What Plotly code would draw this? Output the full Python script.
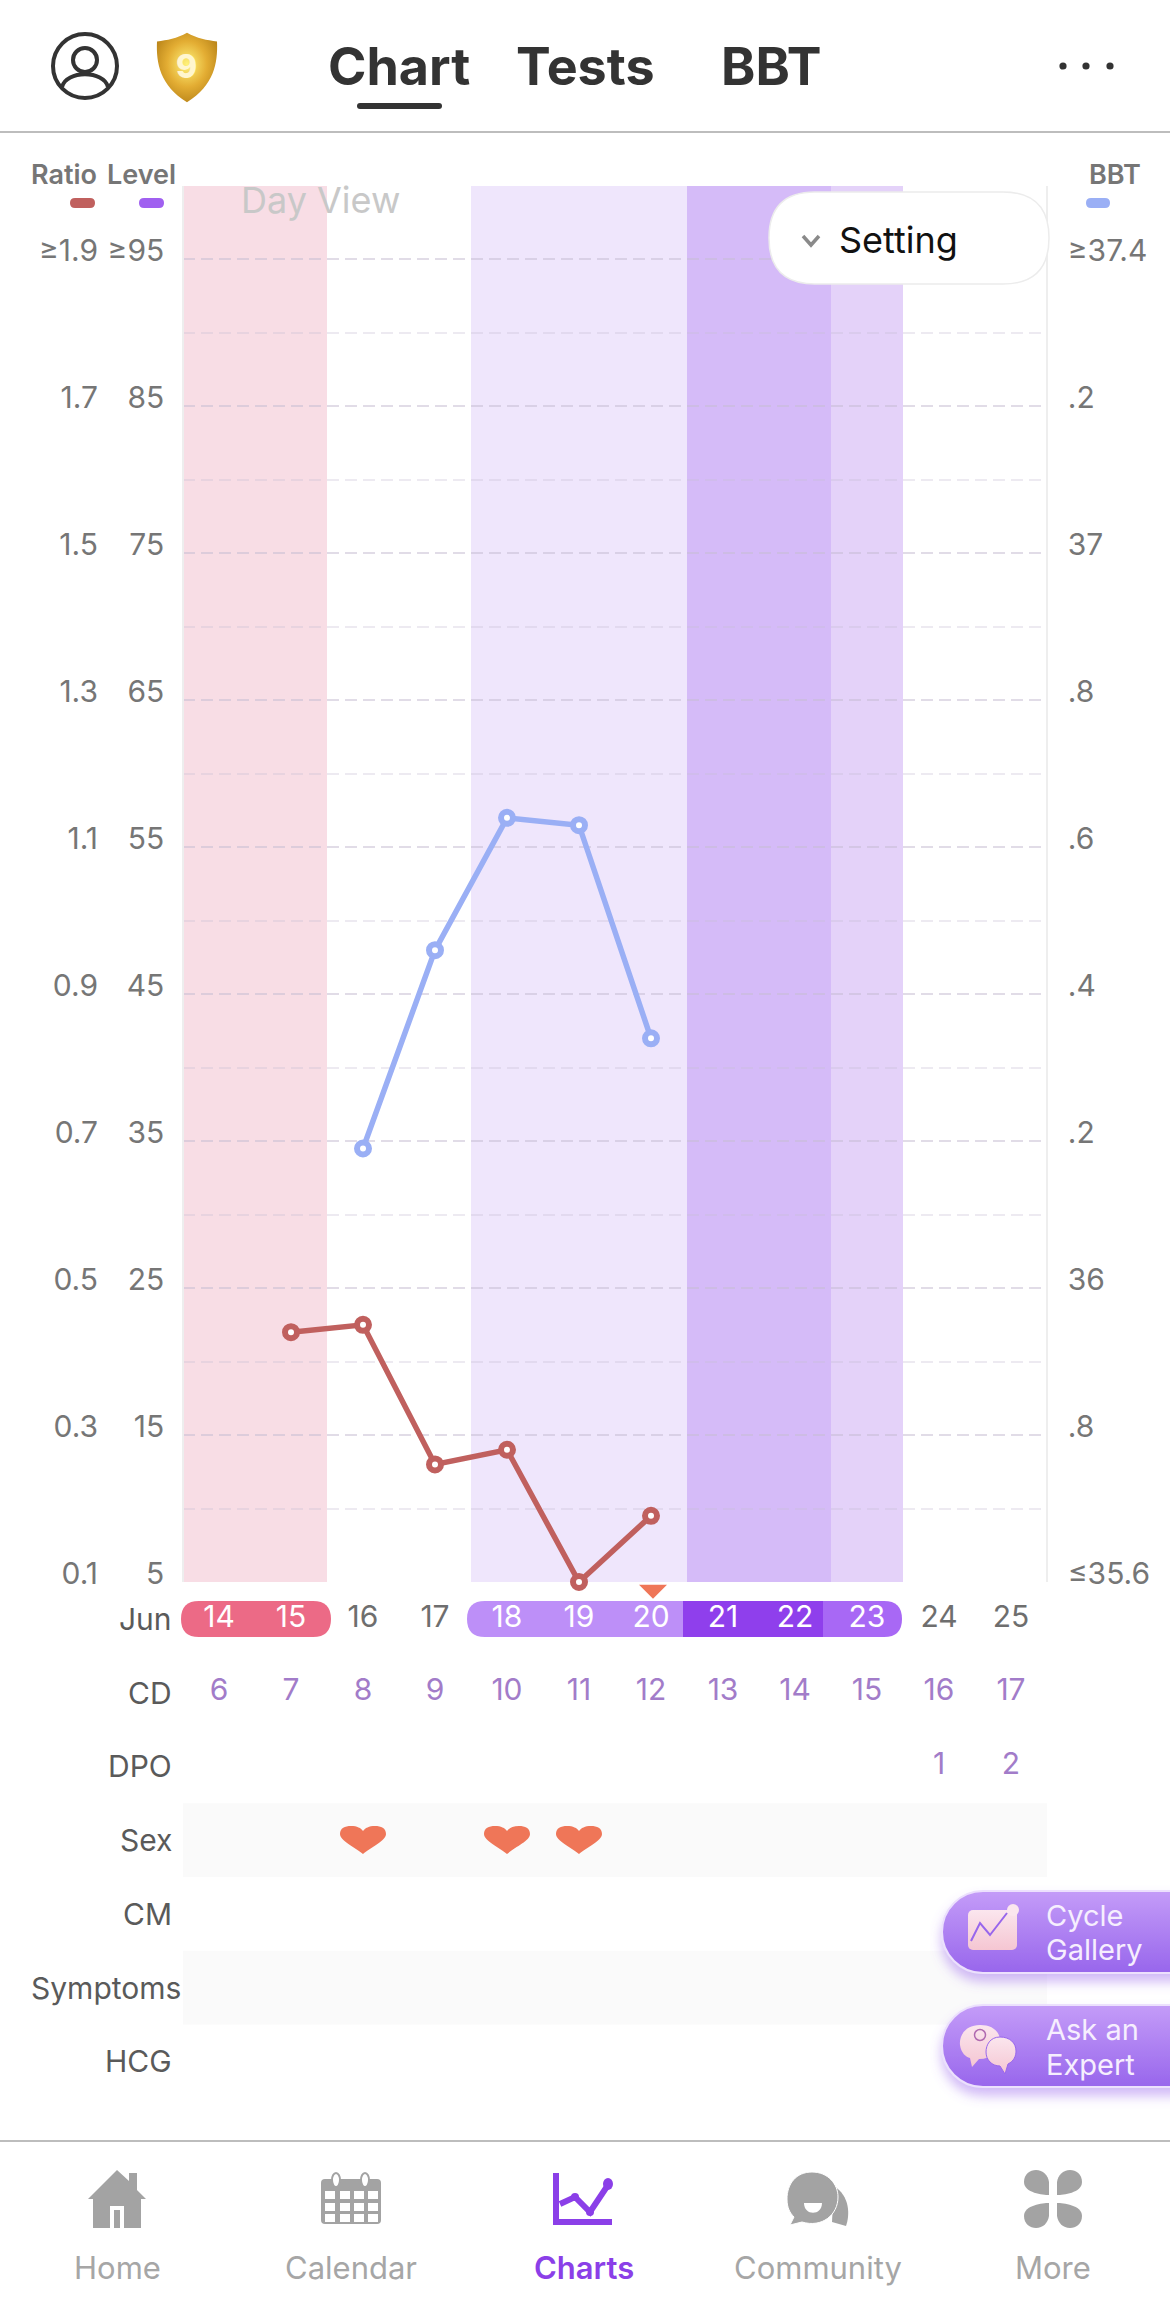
import base64
import plotly.graph_objects as go

# ---------- data ----------
ratio_days = [15, 16, 17, 18, 19, 20]
ratio_values = [0.44, 0.45, 0.26, 0.28, 0.10, 0.19]
bbt_days = [16, 17, 18, 19, 20]
bbt_values = [36.19, 36.46, 36.64, 36.63, 36.34]
level_days = [14, 15]
level_values = [None, None]

ratio_ticks = [0.1, 0.3, 0.5, 0.7, 0.9, 1.1, 1.3, 1.5, 1.7, 1.9]
ratio_labels = ["0.1", "0.3", "0.5", "0.7", "0.9", "1.1", "1.3", "1.5", "1.7", "≥1.9"]
level_ticks = [5, 15, 25, 35, 45, 55, 65, 75, 85, 95]
level_labels = ["5", "15", "25", "35", "45", "55", "65", "75", "85", "≥95"]
bbt_ticks = [35.6, 35.8, 36.0, 36.2, 36.4, 36.6, 36.8, 37.0, 37.2, 37.4]
bbt_labels = ["≤35.6", ".8", "36", ".2", ".4", ".6", ".8", "37", ".2", "≥37.4"]

date_days = [14, 15, 16, 17, 18, 19, 20, 21, 22, 23, 24, 25, 26]
cd_days = [14, 15, 16, 17, 18, 19, 20, 21, 22, 23, 24, 25]
cd_values = [6, 7, 8, 9, 10, 11, 12, 13, 14, 15, 16, 17]
dpo_days = [24, 25]
dpo_values = [1, 2]
sex_days = [16, 18, 19]
today = 20
period_days = [14, 15]
fertile_days = [18, 19, 20]
peak_days = [21, 22]
post_days = [23]
row_names = ["Jun", "CD", "DPO", "Sex", "CM", "Symptoms", "HCG"]

# ---------- style / frame ----------
W, H = 1170, 2314
FONT = "Inter, Roboto, sans-serif"
GREY = "#767676"
DARK = "#333333"
PURPLE = "#8b3fe8"
TAB = "#a6a6a6"
ORANGE = "#ef7658"
RED = "#c0605e"
BLUE = "#9aaff5"
GRID = "rgba(200,190,210,0.32)"
PX_L, PX_R, PX_T, PX_B = 183, 1047, 186, 1582


def xp(v):
    return v / W


def yp(v):
    return 1 - v / H


def to_paper(path):
    out, is_x = [], True
    for tok in path.split():
        try:
            n = float(tok)
        except ValueError:
            out.append(tok)
            is_x = True
            continue
        out.append(f"{xp(n):.6f}" if is_x else f"{yp(n):.6f}")
        is_x = not is_x
    return " ".join(out)


shapes, annos, images = [], [], []


def pshape(path, fill=None, line=None, width=0, layer="above"):
    s = dict(type="path", xref="paper", yref="paper", path=to_paper(path), layer=layer,
             line=dict(width=width, color=line or "rgba(0,0,0,0)"))
    if fill:
        s["fillcolor"] = fill
    shapes.append(s)


def oval(cx, cy, rx, ry, fill=None, line=None, width=0):
    s = dict(type="circle", xref="paper", yref="paper", x0=xp(cx - rx), x1=xp(cx + rx),
             y0=yp(cy + ry), y1=yp(cy - ry), line=dict(width=width, color=line or "rgba(0,0,0,0)"))
    if fill:
        s["fillcolor"] = fill
    shapes.append(s)


def rrect(x0, y0, x1, y1, r, left=True, right=True):
    rl, rr = (r if left else 0), (r if right else 0)
    return (f"M {x0 + rl} {y0} L {x1 - rr} {y0} Q {x1} {y0} {x1} {y0 + rr} L {x1} {y1 - rr} "
            f"Q {x1} {y1} {x1 - rr} {y1} L {x0 + rl} {y1} Q {x0} {y1} {x0} {y1 - rl} "
            f"L {x0} {y0 + rl} Q {x0} {y0} {x0 + rl} {y0} Z")


def txt(x, y, s, size, color=GREY, anchor="center", weight=400):
    annos.append(dict(xref="paper", yref="paper", x=xp(x), y=yp(y), text=s, showarrow=False,
                      xanchor=anchor, yanchor="middle", borderpad=0,
                      font=dict(family=FONT, size=size, color=color, weight=weight)))


def svg_image(svg, x, y, w, h):
    uri = "data:image/svg+xml;base64," + base64.b64encode(svg.encode()).decode()
    images.append(dict(source=uri, xref="paper", yref="paper", x=xp(x), y=yp(y), sizex=w / W,
                       sizey=h / H, xanchor="left", yanchor="top", sizing="stretch", layer="above"))


# ---------- traces ----------
fig = go.Figure()
fig.add_trace(go.Scatter(x=level_days, y=level_values, yaxis="y", xaxis="x", mode="lines",
                         line=dict(color="#a060f0"), hoverinfo="skip", showlegend=False))
marker = dict(size=12, color="white")
fig.add_trace(go.Scatter(x=ratio_days, y=ratio_values, yaxis="y2", xaxis="x", mode="lines+markers",
                         line=dict(color=RED, width=5.5), cliponaxis=False,
                         marker=dict(marker, line=dict(color=RED, width=6)), showlegend=False))
fig.add_trace(go.Scatter(x=bbt_days, y=bbt_values, yaxis="y3", xaxis="x", mode="lines+markers",
                         line=dict(color=BLUE, width=5.5), cliponaxis=False,
                         marker=dict(marker, line=dict(color=BLUE, width=6)), showlegend=False))

pill_days = set(period_days + fertile_days + peak_days + post_days)
fig.add_trace(go.Scatter(x=date_days, y=[0] * len(date_days), xaxis="x2", yaxis="y4", mode="text",
                         text=[str(d) for d in date_days], cliponaxis=False, showlegend=False, hoverinfo="skip",
                         textfont=dict(family=FONT, size=30,
                                       color=["white" if d in pill_days else "#6e6e6e" for d in date_days])))
fig.add_trace(go.Scatter(x=cd_days, y=[1] * len(cd_days), xaxis="x2", yaxis="y4", mode="text",
                         text=[str(v) for v in cd_values], cliponaxis=False, showlegend=False, hoverinfo="skip",
                         textfont=dict(family=FONT, size=30, color="#a27cc9")))
fig.add_trace(go.Scatter(x=dpo_days, y=[2] * len(dpo_days), xaxis="x2", yaxis="y4", mode="text",
                         text=[str(v) for v in dpo_values], cliponaxis=False, showlegend=False, hoverinfo="skip",
                         textfont=dict(family=FONT, size=30, color="#a27cc9")))

# ---------- day bands ----------
for days, col in ((period_days, "#f8dde5"), (fertile_days, "#efe6fc"),
                  (peak_days, "#d5bbf8"), (post_days, "#e4d2f9")):
    shapes.append(dict(type="rect", xref="x", yref="paper", x0=min(days) - 0.5, x1=max(days) + 0.5,
                       y0=yp(PX_B), y1=yp(PX_T), layer="below", line=dict(width=0), fillcolor=col))
for row in (3, 5):
    shapes.append(dict(type="rect", xref="x2", yref="y4", x0=13.5, x1=25.5, y0=row - 0.5, y1=row + 0.5,
                       layer="below", line=dict(width=0), fillcolor="#fafafa"))

# date pills (under the text trace)
pshape(rrect(181, 1601, 331, 1637, 18), fill="#ec6a86", layer="below")
pshape(rrect(467, 1601, 683, 1637, 18, right=False), fill="#bd8ff8", layer="below")
pshape(rrect(683, 1601, 823, 1637, 0), fill="#8f3fec", layer="below")
pshape(rrect(823, 1601, 902, 1637, 18, left=False), fill="#a868f5", layer="below")

# hearts and today marker, anchored on the data axes
HEART = ("M 0 -14 C -8 -7 -23 -1 -23 6 C -23 12 -18 14 -12 14 C -6 14 -2 12 0 9 "
         "C 2 12 6 14 12 14 C 18 14 23 12 23 6 C 23 -1 8 -7 0 -14 Z")
for d in sex_days:
    shapes.append(dict(type="path", xref="x2", yref="y4", xsizemode="pixel", ysizemode="pixel",
                       xanchor=d, yanchor=3, path=HEART, fillcolor=ORANGE, line=dict(width=0), layer="above"))
shapes.append(dict(type="path", xref="x2", yref="y4", xsizemode="pixel", ysizemode="pixel",
                   xanchor=today, yanchor=-0.37, path="M -12 7 L 16 7 L 2 -7 Z", fillcolor=ORANGE,
                   line=dict(width=0), layer="above"))

# ---------- row labels ----------
for i, name in enumerate(row_names):
    annos.append(dict(xref="paper", yref="y4", x=xp(182 if name == "Symptoms" else 173), y=i, text=name,
                      showarrow=False, xanchor="right", yanchor="middle", borderpad=0,
                      font=dict(family=FONT, size=30, color="#5a5a5a")))

# ---------- header ----------
pshape(f"M 0 132 L {W} 132 Z", line="#bdbdbd", width=2)
oval(85, 66, 32, 32, line=DARK, width=4)
oval(85, 60, 12, 12, line=DARK, width=4)
pshape("M 62 87 C 66 70 104 70 108 87", line=DARK, width=4)
svg_image('<svg xmlns="http://www.w3.org/2000/svg" width="70" height="80" viewBox="0 0 70 80">'
          '<defs><radialGradient id="g" cx="50%" cy="45%" r="60%"><stop offset="0" stop-color="#fff27a"/>'
          '<stop offset="0.55" stop-color="#e3ad33"/><stop offset="1" stop-color="#b88318"/></radialGradient></defs>'
          '<path d="M35 3 C45 9 55 11 65 12 C66 35 62 58 35 76 C8 58 4 35 5 12 C15 11 25 9 35 3 Z" fill="url(#g)"/>'
          '</svg>', 152, 30, 70, 76)
txt(187, 67, "9", 32, "#fff6cf", weight=800)
txt(399, 67, "Chart", 52, DARK, weight=700)
txt(585, 67, "Tests", 52, DARK, weight=700)
txt(771, 67, "BBT", 52, DARK, weight=700)
pshape(rrect(357, 103, 442, 109, 3), fill=DARK)
for cx in (1063, 1086, 1110):
    oval(cx, 66, 3.6, 3.6, fill=DARK)

# ---------- axis headers ----------
txt(30, 175, "Ratio", 27, GREY, "left", 600)
txt(177, 175, "Level", 27, GREY, "right", 600)
txt(1142, 175, "BBT", 27, GREY, "right", 600)
pshape(rrect(70, 198, 95, 208, 5), fill=RED)
pshape(rrect(139, 198, 164, 208, 5), fill="#a060f0")
pshape(rrect(1086, 198, 1110, 208, 5), fill=BLUE)
txt(240, 200, "Day View", 36, "#c8c8c8", "left")

# settings pill
pshape(rrect(769, 192, 1049, 284, 46), fill="white", line="#ececec", width=1.5)
pshape("M 803 236 L 811 245 L 819 236", line="#8a8a8a", width=3.5)
txt(838, 240, "Setting", 36, "#111111", "left")

# ---------- side buttons ----------
GRAD = ('<defs><linearGradient id="g" x1="0" y1="0" x2="0" y2="1"><stop offset="0" stop-color="#c49cf8"/>'
        '<stop offset="1" stop-color="#9866ec"/></linearGradient>'
        '<linearGradient id="p" x1="0" y1="0" x2="0" y2="1"><stop offset="0" stop-color="#fbe6ee"/>'
        '<stop offset="1" stop-color="#f5c6d2"/></linearGradient>'
        '<filter id="s" x="-20%" y="-20%" width="140%" height="160%"><feDropShadow dx="0" dy="8" stdDeviation="6" '
        'flood-color="#9a66ec" flood-opacity="0.45"/></filter></defs>')
PILL = '<rect x="12" y="6" width="300" height="82" rx="41" fill="url(#g)" stroke="#ece0fd" stroke-width="2" filter="url(#s)"/>'
svg_image('<svg xmlns="http://www.w3.org/2000/svg" width="240" height="115" viewBox="0 0 240 115">' + GRAD + PILL +
          '<rect x="38" y="25" width="49" height="40" rx="5" fill="url(#p)"/>'
          '<path d="M41 56 L50 38 L60 50 L77 28" fill="none" stroke="#9866ec" stroke-width="2"/>'
          '<circle cx="83" cy="25" r="6" fill="#fbe6ee"/></svg>', 930, 1885, 240, 115)
svg_image('<svg xmlns="http://www.w3.org/2000/svg" width="240" height="115" viewBox="0 0 240 115">' + GRAD + PILL +
          '<path d="M50 26 C36 26 29 36 30 46 C31 54 36 58 40 59 L42 68 L49 60 C62 60 70 52 70 42 C70 32 62 26 50 26 Z" fill="url(#p)"/>'
          '<circle cx="50" cy="36" r="5.5" fill="none" stroke="#b06ab0" stroke-width="1.5"/>'
          '<path d="M70 38 C60 38 56 46 56 53 C56 61 62 67 70 67 L75 75 L78 65 C84 62 86 57 86 52 C86 44 80 38 70 38 Z" fill="url(#p)" stroke="#9866ec" stroke-width="1"/>'
          '</svg>', 930, 1999, 240, 115)
txt(1045, 1915, "Cycle", 29, "#f6eefe", "left")
txt(1045, 1949, "Gallery", 29, "#f6eefe", "left")
txt(1045, 2029, "Ask an", 29, "#f6eefe", "left")
txt(1045, 2064, "Expert", 29, "#f6eefe", "left")

# ---------- tab bar ----------
pshape(f"M 0 2141 L {W} 2141 Z", line="#bdbdbd", width=2)
ICON = "#a3a3a3"
pshape("M 117 2170 L 129 2181 L 129 2173 L 137 2173 L 137 2190 L 146 2199 L 141 2199 L 141 2228 "
       "L 93 2228 L 93 2199 L 88 2199 Z", fill=ICON)
pshape("M 110 2206 L 124 2206 L 124 2228 L 120 2228 L 120 2210 L 114 2210 L 114 2228 L 110 2228 Z", fill="white")
pshape(rrect(321, 2179, 381, 2224, 4), fill=ICON)
oval(336, 2180, 4, 7, fill="white", line=ICON, width=2)
oval(365, 2180, 4, 7, fill="white", line=ICON, width=2)
for cy in (2195, 2207, 2218):
    for cx in (330, 345, 359, 373):
        pshape(f"M {cx - 5} {cy - 4} L {cx + 5} {cy - 4} L {cx + 5} {cy + 4} L {cx - 5} {cy + 4} Z", fill="white")
pshape("M 556 2173 L 556 2222 L 612 2222", line=PURPLE, width=6)
pshape("M 560 2204 L 575 2197 L 590 2212 L 608 2185", line=PURPLE, width=6)
oval(608, 2184, 5, 6, fill=PURPLE)
oval(575, 2197, 4, 4, fill=PURPLE)
oval(590, 2212, 4, 4, fill=PURPLE)
pshape("M 834 2186 C 850 2196 850 2215 846 2226 L 832 2222 Z", fill=ICON)
pshape("M 812 2172 C 796 2172 787 2184 787 2199 C 787 2208 790 2213 794 2217 L 790 2225 L 802 2222 "
       "C 822 2228 838 2215 838 2197 C 838 2184 828 2172 812 2172 Z", fill=ICON, line="white", width=1)
pshape("M 804 2203 L 822 2203 C 822 2216 804 2216 804 2203 Z", fill="white")
for sx, sy in ((-1, -1), (1, -1), (-1, 1), (1, 1)):
    ax, ay = lambda v: 1053 + sx * v, lambda v: 2199 + sy * v
    pshape(f"M {ax(4)} {ay(4)} C {ax(10)} {ay(4)} {ax(29)} {ay(6)} {ax(29)} {ay(17)} "
           f"C {ax(29)} {ay(25)} {ax(23)} {ay(29)} {ax(17)} {ay(29)} "
           f"C {ax(10)} {ay(29)} {ax(5)} {ay(24)} {ax(4)} {ay(17)} Z", fill=ICON)
txt(117, 2267, "Home", 31, TAB)
txt(351, 2267, "Calendar", 31, TAB)
txt(584, 2267, "Charts", 31, PURPLE, weight=600)
txt(818, 2267, "Community", 31, TAB)
txt(1053, 2267, "More", 31, TAB)

# ---------- layout ----------
dom_x = [xp(PX_L), xp(PX_R)]
dom_y = [yp(PX_B), yp(PX_T)]
tick_font = dict(family=FONT, size=30, color=GREY)
common = dict(tickmode="array", ticks="", showgrid=False, zeroline=False, ticklabelshift=-9,
              tickfont=tick_font, domain=dom_y, anchor="free")
fig.update_layout(
    width=W, height=H, autosize=False, margin=dict(l=0, r=0, t=0, b=0, pad=0, autoexpand=False),
    paper_bgcolor="white", plot_bgcolor="rgba(0,0,0,0)", showlegend=False, hovermode=False,
    font=dict(family=FONT),
    xaxis=dict(domain=dom_x, range=[13.5, 25.5], visible=False, anchor="y"),
    xaxis2=dict(domain=dom_x, range=[13.5, 25.5], visible=False, anchor="y4"),
    yaxis=dict(common, range=[5, 100], tickvals=level_ticks, ticktext=level_labels, position=xp(PX_L),
               ticklabelstandoff=12, showline=True, linecolor="#eeeeee", linewidth=1.5,
               showgrid=True, gridcolor=GRID, gridwidth=1.5, griddash="12px,6px",
               minor=dict(tickmode="linear", tick0=5, dtick=5, showgrid=True, gridcolor=GRID,
                          gridwidth=1.5, griddash="12px,6px", ticks="")),
    yaxis2=dict(common, range=[0.1, 2.0], tickvals=ratio_ticks, ticktext=ratio_labels, position=xp(PX_L),
                overlaying="y", ticklabelstandoff=85),
    yaxis3=dict(common, range=[35.6, 37.5], tickvals=bbt_ticks, ticktext=bbt_labels, position=xp(PX_R),
                overlaying="y", side="right", ticklabelstandoff=14, showline=True, linecolor="#eeeeee", linewidth=1.5),
    yaxis4=dict(domain=[yp(2100), yp(PX_B)], range=[6.526, -0.502], visible=False, anchor="x2"),
    shapes=shapes, annotations=annos, images=images,
)

fig.write_html("out.html", config=dict(displayModeBar=False),
               post_script="document.body.style.margin='0';document.documentElement.style.overflow='hidden';")
